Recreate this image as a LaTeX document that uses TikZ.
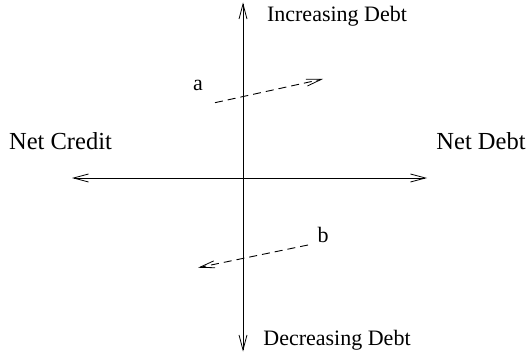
\documentclass[tikz,border=0pt]{standalone}
\usepackage{fontspec}
\setmainfont{Liberation Serif}
\usetikzlibrary{arrows.meta}
\begin{document}
\begin{tikzpicture}[x=1pt,y=1pt,
  axis/.style={line width=0.9pt,-{Straight Barb[length=15pt,width=8pt,line width=0.8pt]}},
  move/.style={line width=0.9pt,dash pattern=on 8pt off 5pt,-{Straight Barb[length=15pt,width=7pt,line width=0.8pt]}},
  lbl/.style={font=\fontsize{22}{26}\selectfont,inner sep=0pt},
  biglbl/.style={font=\fontsize{24.5}{29}\selectfont,inner sep=0pt}]
\useasboundingbox (0,0) rectangle (529,353);
% axes
\coordinate (o) at (243,175);
\coordinate (top) at (243,350.5);
\coordinate (bot) at (243,1.5);
\coordinate (lft) at (72,175);
\coordinate (rgt) at (427,175);
\draw[axis] (o) -- (top);
\draw[axis] (o) -- (bot);
\draw[axis] (o) -- (lft);
\draw[axis] (o) -- (rgt);
% labels
\node[lbl] (inc) at (337,337) {Increasing Debt};
\node[lbl] (dec) at (337,13) {Decreasing Debt};
\node[biglbl] (nc) at (60.5,212) {Net Credit};
\node[biglbl] (nd) at (481,212) {Net Debt};
\node[lbl] (la) at (198,268) {a};
\node[lbl] (lb) at (323,118) {b};
% dashed moves
\coordinate (a1) at (215,250.3);
\coordinate (a2) at (323,274);
\coordinate (b1) at (308,108);
\coordinate (b2) at (198,85.3);
\draw[move] (a1) -- (a2);
\draw[move] (b1) -- (b2);
\end{tikzpicture}
\end{document}
